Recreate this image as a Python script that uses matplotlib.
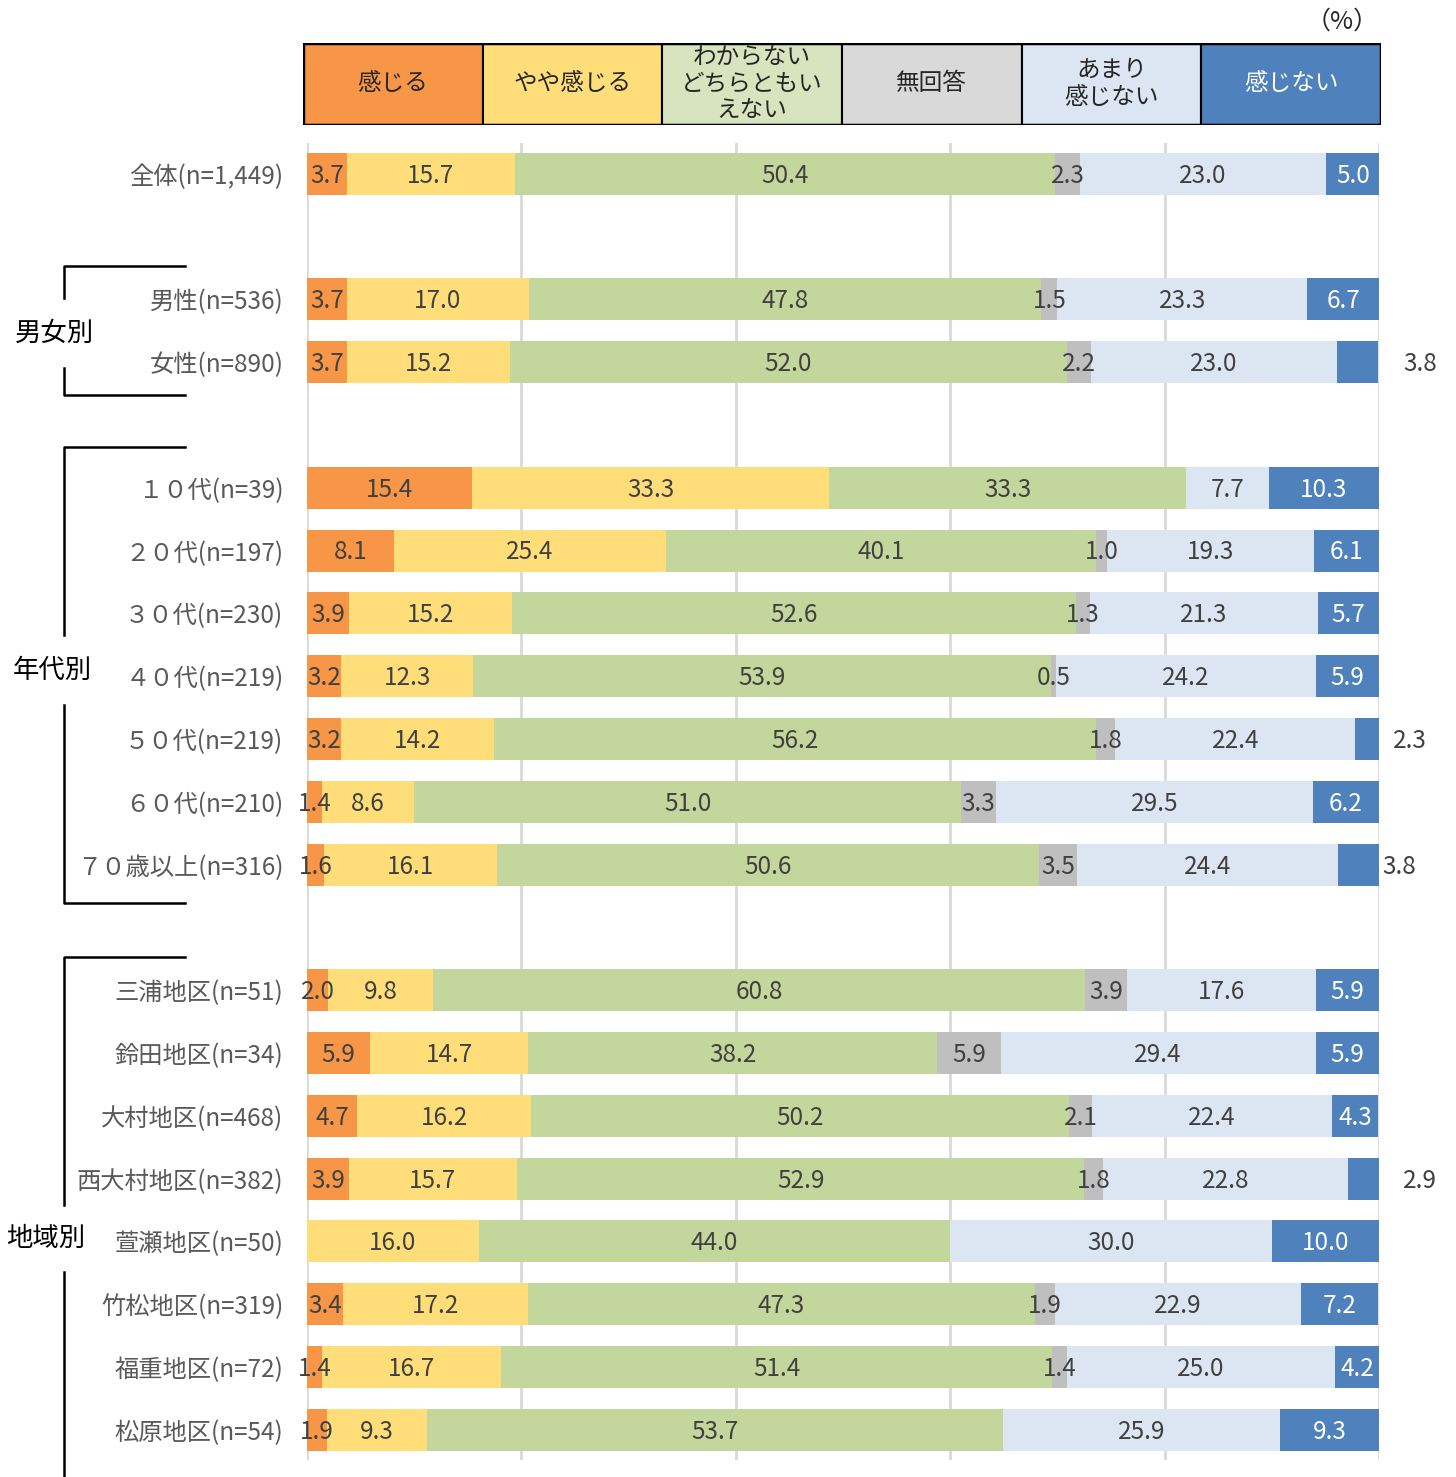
import matplotlib
matplotlib.use('Agg')
import matplotlib.pyplot as plt
from matplotlib.lines import Line2D
from matplotlib.patches import Rectangle

plt.rcParams['font.family'] = ['Noto Sans CJK JP', 'DejaVu Sans']

# Categories (None = spacer row)
rows = ['全体(n=1,449)', None,
        '男性(n=536)', '女性(n=890)', None,
        '１０代(n=39)', '２０代(n=197)', '３０代(n=230)', '４０代(n=219)',
        '５０代(n=219)', '６０代(n=210)', '７０歳以上(n=316)', None,
        '三浦地区(n=51)', '鈴田地区(n=34)', '大村地区(n=468)', '西大村地区(n=382)',
        '萱瀬地区(n=50)', '竹松地区(n=319)', '福重地区(n=72)', '松原地区(n=54)']

series = ['感じる', 'やや感じる', 'わからない\nどちらともい\nえない', '無回答', 'あまり\n感じない', '感じない']

kanjiru = [3.7, None, 3.7, 3.7, None, 15.4, 8.1, 3.9, 3.2, 3.2, 1.4, 1.6, None,
           2.0, 5.9, 4.7, 3.9, 0.0, 3.4, 1.4, 1.9]
yaya = [15.7, None, 17.0, 15.2, None, 33.3, 25.4, 15.2, 12.3, 14.2, 8.6, 16.1, None,
        9.8, 14.7, 16.2, 15.7, 16.0, 17.2, 16.7, 9.3]
wakaranai = [50.4, None, 47.8, 52.0, None, 33.3, 40.1, 52.6, 53.9, 56.2, 51.0, 50.6, None,
             60.8, 38.2, 50.2, 52.9, 44.0, 47.3, 51.4, 53.7]
mukaitou = [2.3, None, 1.5, 2.2, None, 0.0, 1.0, 1.3, 0.5, 1.8, 3.3, 3.5, None,
            3.9, 5.9, 2.1, 1.8, 0.0, 1.9, 1.4, 0.0]
amari = [23.0, None, 23.3, 23.0, None, 7.7, 19.3, 21.3, 24.2, 22.4, 29.5, 24.4, None,
         17.6, 29.4, 22.4, 22.8, 30.0, 22.9, 25.0, 25.9]
kanjinai = [5.0, None, 6.7, 3.8, None, 10.3, 6.1, 5.7, 5.9, 2.3, 6.2, 3.8, None,
            5.9, 5.9, 4.3, 2.9, 10.0, 7.2, 4.2, 9.3]

values = [kanjiru, yaya, wakaranai, mukaitou, amari, kanjinai]
bar_colors = ['#F79646', '#FFDE7A', '#C3D69B', '#BFBFBF', '#DCE6F2', '#4F81BD']
legend_colors = ['#F79646', '#FFDE7A', '#D7E4BD', '#D9D9D9', '#DCE6F2', '#4F81BD']
text_colors = ['#404040'] * 5 + ['white']

# x position of labels drawn outside the bar (small 感じない values)
outside_x = {3: 103.8, 9: 102.9, 11: 101.9, 16: 103.8}

W, H = 1456, 1477
fig = plt.figure(figsize=(W / 100, H / 100), dpi=100)


def fx(x):
    return x / W


def fy(y):
    return 1 - y / H


ax = fig.add_axes([fx(307), fy(1460), fx(1379) - fx(307), fy(143) - fy(1460)])
ax.set_xlim(0, 100)
ax.set_ylim(20.48, -0.49)

for gx in range(0, 101, 20):
    ax.axvline(gx, color='#D9D9D9', lw=2, zorder=0)

for i, lab in enumerate(rows):
    if lab is None:
        continue
    left = 0
    for s in range(6):
        v = values[s][i]
        ax.barh(i, v, left=left, height=0.67, color=bar_colors[s], lw=0, zorder=2)
        if v > 0:
            if s == 5 and i in outside_x:
                ax.text(outside_x[i], i + 0.03, f'{v:.1f}', ha='center', va='center',
                        fontsize=17.5, color='#404040', zorder=3, clip_on=False)
            else:
                ax.text(left + v / 2, i + 0.03, f'{v:.1f}', ha='center', va='center',
                        fontsize=17.5, color=text_colors[s], zorder=3)
        left += v

ticks = [i for i, lab in enumerate(rows) if lab is not None]
ax.set_yticks(ticks)
ax.set_yticklabels([rows[i] for i in ticks], fontsize=17.5, color='#595959')
ax.tick_params(axis='y', length=0, pad=17)
ax.set_xticks([])
for sp in ax.spines.values():
    sp.set_visible(False)

# legend table at top
lax = fig.add_axes([fx(303), fy(125), fx(1381) - fx(303), fy(43) - fy(125)])
lax.set_xlim(0, 6)
lax.set_ylim(0, 1)
lax.axis('off')
for s in range(6):
    lax.add_patch(Rectangle((s, 0), 1, 1, facecolor=legend_colors[s],
                            edgecolor='black', lw=1.5))
    lax.text(s + 0.5, 0.5, series[s], ha='center', va='center', fontsize=17,
             color=text_colors[s] if s == 5 else '#262626', linespacing=1.2)
lax.add_patch(Rectangle((0, 0), 6, 1, fill=False, edgecolor='black', lw=2.5))

fig.text(fx(1342), fy(22), '（%）', ha='center', va='center', fontsize=18, color='#262626')


def line(xs, ys):
    fig.add_artist(Line2D([fx(x) for x in xs], [fy(y) for y in ys], color='black', lw=1.8))


# group brackets
line([185, 64, 64], [266, 266, 298])
line([64, 64, 185], [368, 395, 395])
fig.text(fx(54), fy(333), '男女別', ha='center', va='center', fontsize=19, color='black')

line([185, 64, 64], [447, 447, 635])
line([64, 64, 185], [705, 903, 903])
fig.text(fx(52), fy(670), '年代別', ha='center', va='center', fontsize=19, color='black')

line([185, 64, 64], [957, 957, 1205])
line([64, 64], [1272, 1477])
fig.text(fx(46), fy(1238), '地域別', ha='center', va='center', fontsize=19, color='black')

fig.savefig('out.png', dpi=100)
